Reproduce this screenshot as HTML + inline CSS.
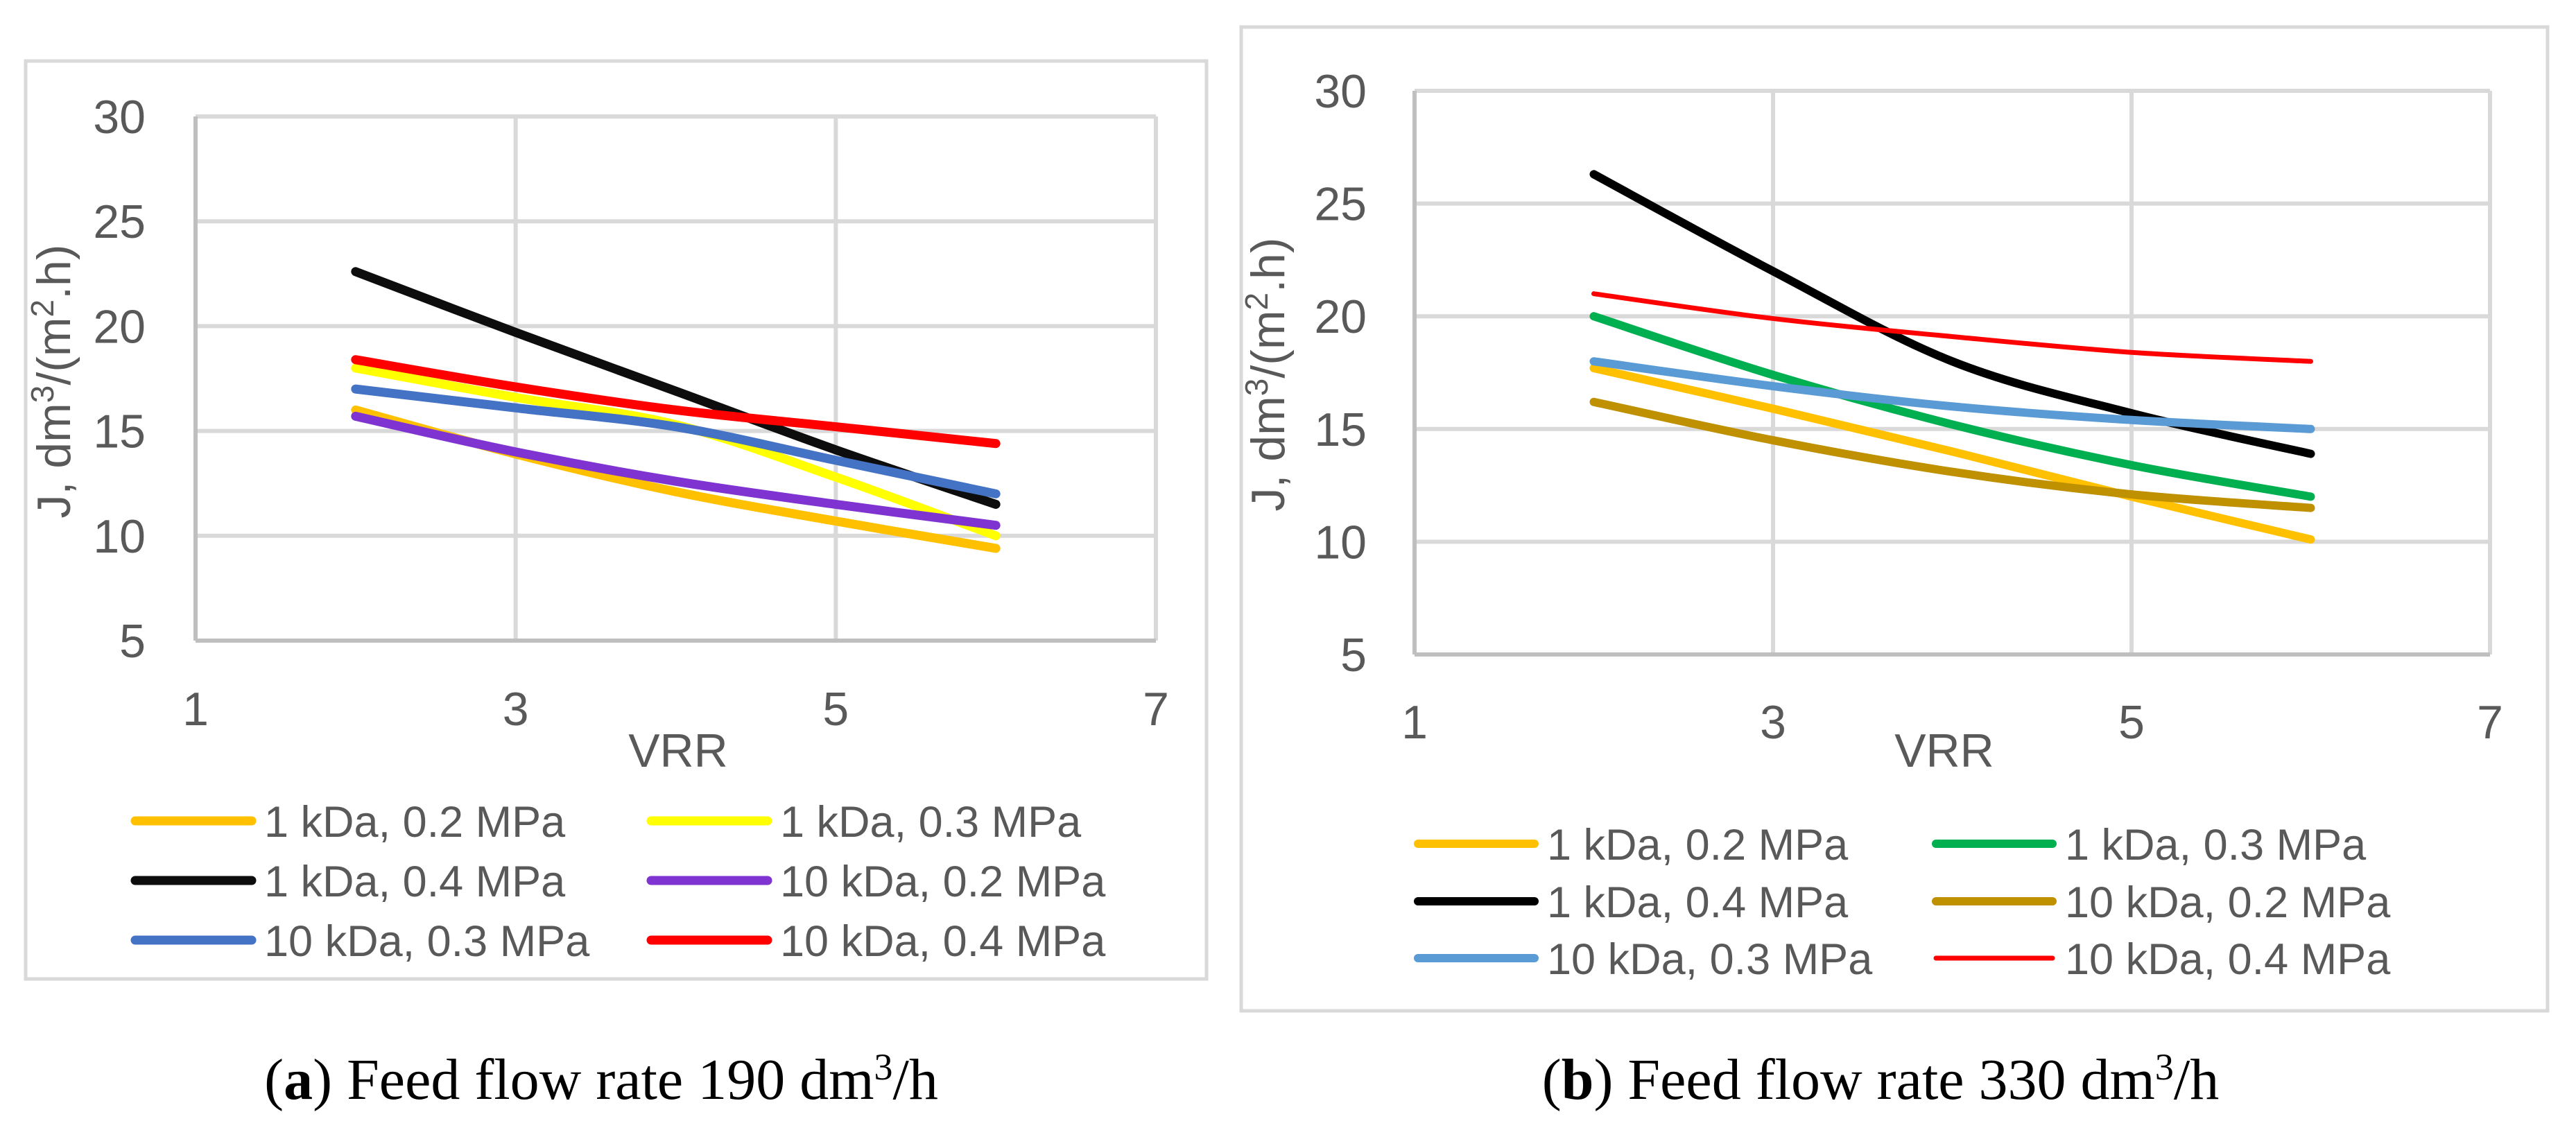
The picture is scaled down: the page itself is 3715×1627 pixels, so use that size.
<!DOCTYPE html>
<html><head><meta charset="utf-8"><style>
html,body{margin:0;padding:0;background:#fff;width:3715px;height:1627px;overflow:hidden}
svg{display:block}
text{font-family:"Liberation Sans",sans-serif;fill:#595959}
.cap{font-family:"Liberation Serif",serif;fill:#000}
</style></head><body>
<svg id="fig" width="3715" height="1627" viewBox="0 0 3715 1627" xmlns="http://www.w3.org/2000/svg"></svg>
<script>
const xVals = [2, 3, 4, 5, 6];
const xTicks = [1, 3, 5, 7];
const yTicks = [5, 10, 15, 20, 25, 30];
const seriesNamesA = ["1 kDa, 0.2 MPa", "1 kDa, 0.3 MPa", "1 kDa, 0.4 MPa", "10 kDa, 0.2 MPa", "10 kDa, 0.3 MPa", "10 kDa, 0.4 MPa"];
const a_1k02 = [16.0, 13.9, 12.1, 10.7, 9.4];
const a_1k03 = [18.0, 16.6, 15.3, 12.8, 10.0];
const a_1k04 = [22.6, 19.7, 16.9, 14.1, 11.5];
const a_10k02 = [15.7, 14.0, 12.6, 11.5, 10.5];
const a_10k03 = [17.0, 16.1, 15.2, 13.6, 12.0];
const a_10k04 = [18.4, 17.1, 16.0, 15.2, 14.4];
const seriesNamesB = ["1 kDa, 0.2 MPa", "1 kDa, 0.3 MPa", "1 kDa, 0.4 MPa", "10 kDa, 0.2 MPa", "10 kDa, 0.3 MPa", "10 kDa, 0.4 MPa"];
const b_1k02 = [17.7, 15.9, 14.0, 12.0, 10.1];
const b_1k03 = [20.0, 17.4, 15.2, 13.4, 12.0];
const b_1k04 = [26.3, 22.0, 18.0, 15.7, 13.9];
const b_10k02 = [16.2, 14.5, 13.1, 12.1, 11.5];
const b_10k03 = [18.0, 16.9, 16.0, 15.4, 15.0];
const b_10k04 = [21.0, 19.9, 19.1, 18.4, 18.0];

const NS = "http://www.w3.org/2000/svg";
const svg = document.getElementById('fig');
function mk(tag, attrs, parent, txt) {
  const e = document.createElementNS(NS, tag);
  for (const k in attrs) e.setAttribute(k, attrs[k]);
  if (txt !== undefined) e.textContent = txt;
  (parent || svg).appendChild(e);
  return e;
}
function smooth(pts) {
  let d = "M" + pts[0][0] + "," + pts[0][1];
  for (let i = 0; i < pts.length - 1; i++) {
    const p0 = pts[i - 1] || pts[i], p1 = pts[i], p2 = pts[i + 1], p3 = pts[i + 2] || p2;
    const c1 = [p1[0] + (p2[0] - p0[0]) / 6, p1[1] + (p2[1] - p0[1]) / 6];
    const c2 = [p2[0] - (p3[0] - p1[0]) / 6, p2[1] - (p3[1] - p1[1]) / 6];
    d += " C" + c1[0] + "," + c1[1] + " " + c2[0] + "," + c2[1] + " " + p2[0] + "," + p2[1];
  }
  return d;
}
function chart(cfg) {
  const g = mk('g', {});
  
  
  const fr = mk('rect', {x: cfg.box[0], y: cfg.box[1], width: cfg.box[2], height: cfg.box[3], fill: '#fff', stroke: '#d9d9d9', 'stroke-width': 5}, g);
  
  
  const L = cfg.plot[0], R = cfg.plot[1], T = cfg.plot[2], B = cfg.plot[3];
  const sx = v => L + (v - 1) / 6 * (R - L);
  const sy = v => B - (v - 5) / 25 * (B - T);
  yTicks.forEach(t => {
    if (t !== 5) {
      const gl = mk('line', {x1: L, x2: R, y1: sy(t), y2: sy(t), stroke: '#d9d9d9', 'stroke-width': 6}, g);
      
      
    }
    const tl = mk('text', {x: cfg.ylabR, y: sy(t) + 24, 'text-anchor': 'end', 'font-size': 68}, g, String(t));
    
    
  });
  xTicks.forEach(t => {
    if (t !== 1) {
      const gl = mk('line', {x1: sx(t), x2: sx(t), y1: T, y2: B, stroke: '#d9d9d9', 'stroke-width': 6}, g);
      
      
    }
    const tl = mk('text', {x: sx(t), y: cfg.xlabY, 'text-anchor': 'middle', 'font-size': 68}, g, String(t));
    
    
  });
  const xa = mk('line', {x1: L, x2: R, y1: B, y2: B, stroke: '#bfbfbf', 'stroke-width': 6}, g);
  
  
  const ya = mk('line', {x1: L, x2: L, y1: T, y2: B, stroke: '#bfbfbf', 'stroke-width': 6}, g);
  
  
  const xt = mk('text', {x: cfg.vrr[0], y: cfg.vrr[1], 'text-anchor': 'middle', 'font-size': 68}, g, 'VRR');
  
  
  const yt = mk('text', {x: 0, y: 0, 'text-anchor': 'middle', 'font-size': 68, transform: 'translate(' + cfg.ytit[0] + ',' + cfg.ytit[1] + ') rotate(-90)'}, g);
  
  
  yt.appendChild(document.createTextNode('J, dm'));
  mk('tspan', {dy: -24, 'font-size': 46}, yt, '3');
  mk('tspan', {dy: 24}, yt, '/(m');
  mk('tspan', {dy: -24, 'font-size': 46}, yt, '2');
  mk('tspan', {dy: 24}, yt, '.h)');
  cfg.series.forEach((s, i) => {
    const pts = xVals.map((x, j) => [sx(x), sy(s.vals[j])]);
    const p = mk('path', {d: smooth(pts), fill: 'none', stroke: s.color, 'stroke-width': s.w, 'stroke-linecap': 'round', 'stroke-linejoin': 'round'}, g);
    
    
  });
  cfg.series.forEach((s, i) => {
    const col = i % 2, row = Math.floor(i / 2);
    const lx = cfg.legX[col], ly = cfg.legY[row];
    const le = mk('g', {}, g);
    
    
    mk('line', {x1: lx, x2: lx + 168, y1: ly, y2: ly, stroke: s.color, 'stroke-width': s.w, 'stroke-linecap': 'round'}, le);
    mk('text', {x: lx + 186, y: ly + 23, 'font-size': 63}, le, s.label);
  });
  const cp = mk('text', {x: cfg.cap[0], y: cfg.cap[1], 'text-anchor': 'middle', 'font-size': 84, class: 'cap'});
  
  
  cp.appendChild(document.createTextNode('('));
  mk('tspan', {'font-weight': 'bold'}, cp, cfg.letter);
  cp.appendChild(document.createTextNode(') ' + cfg.capText + ' dm'));
  mk('tspan', {dy: -28, 'font-size': 54}, cp, '3');
  mk('tspan', {dy: 28}, cp, '/h');
}
chart({
  name: 'chart-a', letter: 'a', capText: 'Feed flow rate 190',
  box: [37, 88, 1703, 1324], plot: [282, 1667, 168, 924], ylabR: 210, xlabY: 1046,
  vrr: [978, 1106], ytit: [101, 550], legX: [195, 939], legY: [1184, 1270, 1356], cap: [867, 1585],
  series: [
    {label: seriesNamesA[0], vals: a_1k02, color: '#ffc000', w: 13},
    {label: seriesNamesA[1], vals: a_1k03, color: '#ffff00', w: 13},
    {label: seriesNamesA[2], vals: a_1k04, color: '#0d0d0d', w: 13},
    {label: seriesNamesA[3], vals: a_10k02, color: '#7f34d2', w: 13},
    {label: seriesNamesA[4], vals: a_10k03, color: '#4472c4', w: 13},
    {label: seriesNamesA[5], vals: a_10k04, color: '#ff0000', w: 13}
  ]
});
chart({
  name: 'chart-b', letter: 'b', capText: 'Feed flow rate 330',
  box: [1790, 39, 1884, 1419], plot: [2040, 3591, 131, 944], ylabR: 1971, xlabY: 1065,
  vrr: [2804, 1106], ytit: [1852, 540], legX: [2045, 2792], legY: [1217, 1300, 1382], cap: [2712, 1585],
  series: [
    {label: seriesNamesB[0], vals: b_1k02, color: '#ffc000', w: 12},
    {label: seriesNamesB[1], vals: b_1k03, color: '#00b050', w: 12},
    {label: seriesNamesB[2], vals: b_1k04, color: '#000000', w: 12},
    {label: seriesNamesB[3], vals: b_10k02, color: '#bf9000', w: 12},
    {label: seriesNamesB[4], vals: b_10k03, color: '#5b9bd5', w: 12},
    {label: seriesNamesB[5], vals: b_10k04, color: '#ff0000', w: 7}
  ]
});
</script>
</body></html>
